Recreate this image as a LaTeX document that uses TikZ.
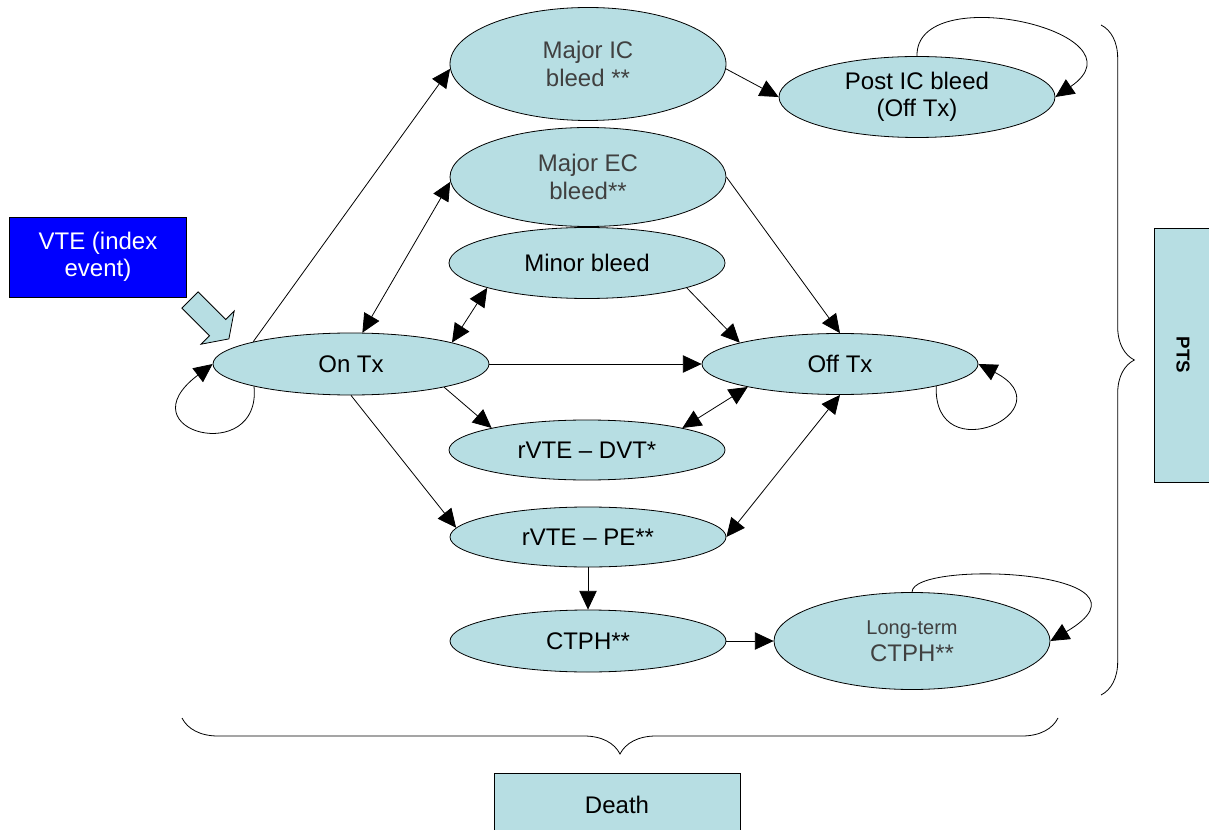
\documentclass[tikz,border=0pt]{standalone}
\usepackage{fontspec}
\setmainfont{Liberation Sans}
\usetikzlibrary{arrows.meta,shapes.geometric,decorations.pathreplacing}
\definecolor{paleblue}{RGB}{183,222,227}
\definecolor{vteblue}{RGB}{0,0,255}

\begin{document}
\begin{tikzpicture}[x=0.75pt,y=-0.75pt,->,>={Triangle[length=14pt,width=13pt]},semithick,
  stage/.style={ellipse,draw,fill=paleblue,minimum width=207pt,inner sep=0pt,align=center,font=\fontsize{18}{20.5}\selectfont},
  panel/.style={rectangle,draw,fill=paleblue,inner sep=0pt,align=center,font=\fontsize{18}{20.5}\selectfont}]
\useasboundingbox (0,0) rectangle (1209,830);

\node[panel,fill=vteblue,text=white,minimum width=132.75pt,minimum height=60pt] (vte) at (98,257) {VTE (index\\event)};
\node[stage,minimum height=46.5pt] (on) at (351,364) {On Tx};
\node[stage,minimum height=45.75pt] (off) [right of=on,node distance=366.75pt] {Off Tx};
\node[stage,minimum height=84.75pt,text=black!75] (ic) at (588,64) {Major IC\\bleed **};
\node[stage,minimum height=60.75pt] (post) at (917,97) {Post IC bleed\\(Off Tx)};
\node[stage,minimum height=74.25pt,text=black!75] (ec) at (588,177) {Major EC\\bleed**};
\node[stage,minimum height=53.25pt] (minor) at (587,263) {Minor bleed};
\node[stage,minimum height=45pt] (dvt) at (587,450) {rVTE – DVT*};
\node[stage,minimum height=45pt] (pe) at (588,537) {rVTE – PE**};
\node[stage,minimum height=46.5pt] (ctph) at (588,641) {CTPH**};
\node[stage,minimum height=72.75pt,text=black!75] (lt) [right of=ctph,node distance=243pt] {{\fontsize{15}{18}\selectfont Long-term}\\CTPH**};
\node[panel,minimum width=184.5pt,minimum height=48pt] (death) at (617,805) {Death};
\node[panel,rotate=-90,minimum width=190.5pt,minimum height=42.75pt,font=\bfseries\fontsize{14}{16}\selectfont] (pts) at (1183,355) {PTS};

% entry arrow
\draw[-,fill=paleblue] (198.1,291.9) -- (225.7,319.5) -- (234.2,311) -- (228.9,338.9) -- (201,344.2) -- (209.5,335.7) -- (181.9,308.1) -- cycle;

\path (on.north west) edge (ic.182)
      (on.70) edge [<->] (ec.182)
      (on.12) edge [<->] (minor.194)
      (on.east) edge (off.west)
      (on.-14) edge (dvt.167)
      (on.south) edge (pe.176)
      (ic.-2) edge (post.west)
      (ec.east) edge (off.north)
      (minor.-14) edge (off.168)
      (dvt.13) edge [<->] (off.194)
      (pe.east) edge [<->] (off.south)
      (pe.south) edge (ctph.north)
      (ctph.east) edge (lt.west);

% self loops
\draw (on.193) .. controls +(8,80) and +(-90,68) .. (on.west);
\draw (off.-13) .. controls +(-3,86) and +(90,46) .. (off.east);
\draw (post.north) .. controls +(-2,-77) and +(95,-65) .. (post.east);
\draw (lt.north) .. controls +(0,-33) and +(121,-71) .. (lt.east);

% braces
\draw[-,decorate,decoration={brace,amplitude=25pt}] (1101,25) -- (1101,695);
\draw[-,decorate,decoration={brace,amplitude=27pt}] (1058,718) -- (182,718);
\end{tikzpicture}
\end{document}
